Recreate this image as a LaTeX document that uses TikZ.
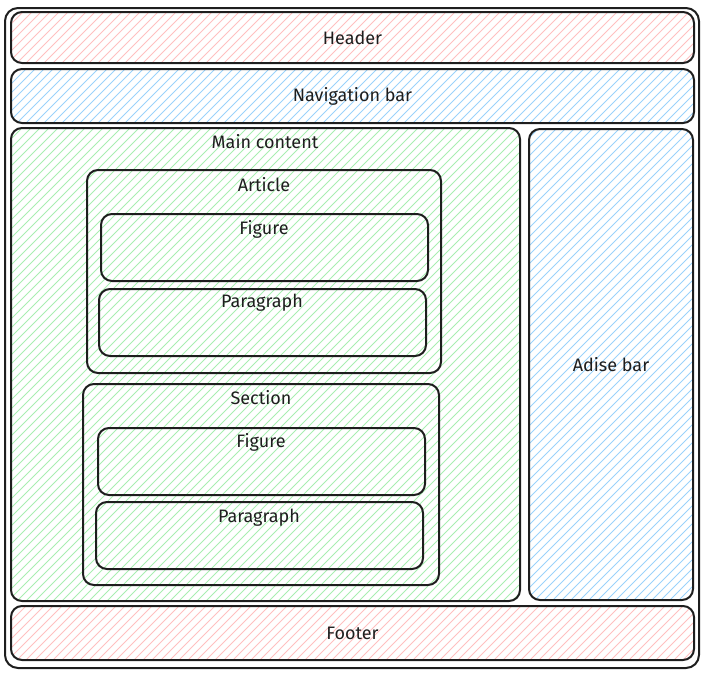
\documentclass[tikz,border=0pt]{standalone}
\usepackage{fontspec}
\setmainfont{Fira Sans}
\definecolor{ink}{HTML}{1E1E1E}
\definecolor{pinkh}{HTML}{FFC0C0}
\definecolor{blueh}{HTML}{9AD2FB}
\definecolor{greenh}{HTML}{A8EEB1}
\tikzset{
  box/.style={draw=ink, line width=2pt, rounded corners=11pt, inner sep=0pt, font=\fontsize{18}{21}\selectfont, text=ink},
  hatch/.style={path picture={
    \foreach \d in {-480,-471,...,700}
      \draw[#1, line width=1pt] ([xshift=\d pt]path picture bounding box.south west) -- ++(700pt,700pt);
  }},
  lbl/.style={font=\fontsize{18}{21}\selectfont, text=ink, inner sep=0pt}
}
\begin{document}
\begin{tikzpicture}[x=1pt,y=-1pt]
\useasboundingbox (0,0) rectangle (705,673);
\node[box, minimum width=694, minimum height=660, rounded corners=13pt] (outer) at (352,338) {};
\node[box, hatch=pinkh, minimum width=683, minimum height=51] (header) at (352.5,37.5) {Header};
\node[box, hatch=blueh, minimum width=683, minimum height=54] (nav) at (352.5,96) {Navigation bar};
\node[box, hatch=greenh, minimum width=509, minimum height=473] (main) at (265.5,364.5) {};
\node[lbl] (mainl) at (265,142) {Main content};
\node[box, hatch=blueh, minimum width=164, minimum height=471] (aside) at (611,364.5) {Adise bar};
\node[box, hatch=pinkh, minimum width=683, minimum height=54] (footer) at (352.5,633) {Footer};
\node[box, minimum width=354, minimum height=203] (article) at (264,271.5) {};
\node[lbl] (articlel) at (264,185) {Article};
\node[box, minimum width=327, minimum height=67] (fig1) at (264.5,247.5) {};
\node[lbl] (fig1l) at (264,229) {Figure};
\node[box, minimum width=327, minimum height=67] (par1) at (262.5,322.5) {};
\node[lbl] (par1l) at (262,303) {Paragraph};
\node[box, minimum width=356, minimum height=201] (section) at (261,484.5) {};
\node[lbl] (sectionl) at (261,398) {Section};
\node[box, minimum width=327, minimum height=67] (fig2) at (261.5,461.5) {};
\node[lbl] (fig2l) at (261,442) {Figure};
\node[box, minimum width=327, minimum height=67] (par2) at (259.5,535.5) {};
\node[lbl] (par2l) at (259,518) {Paragraph};
\end{tikzpicture}
\end{document}
